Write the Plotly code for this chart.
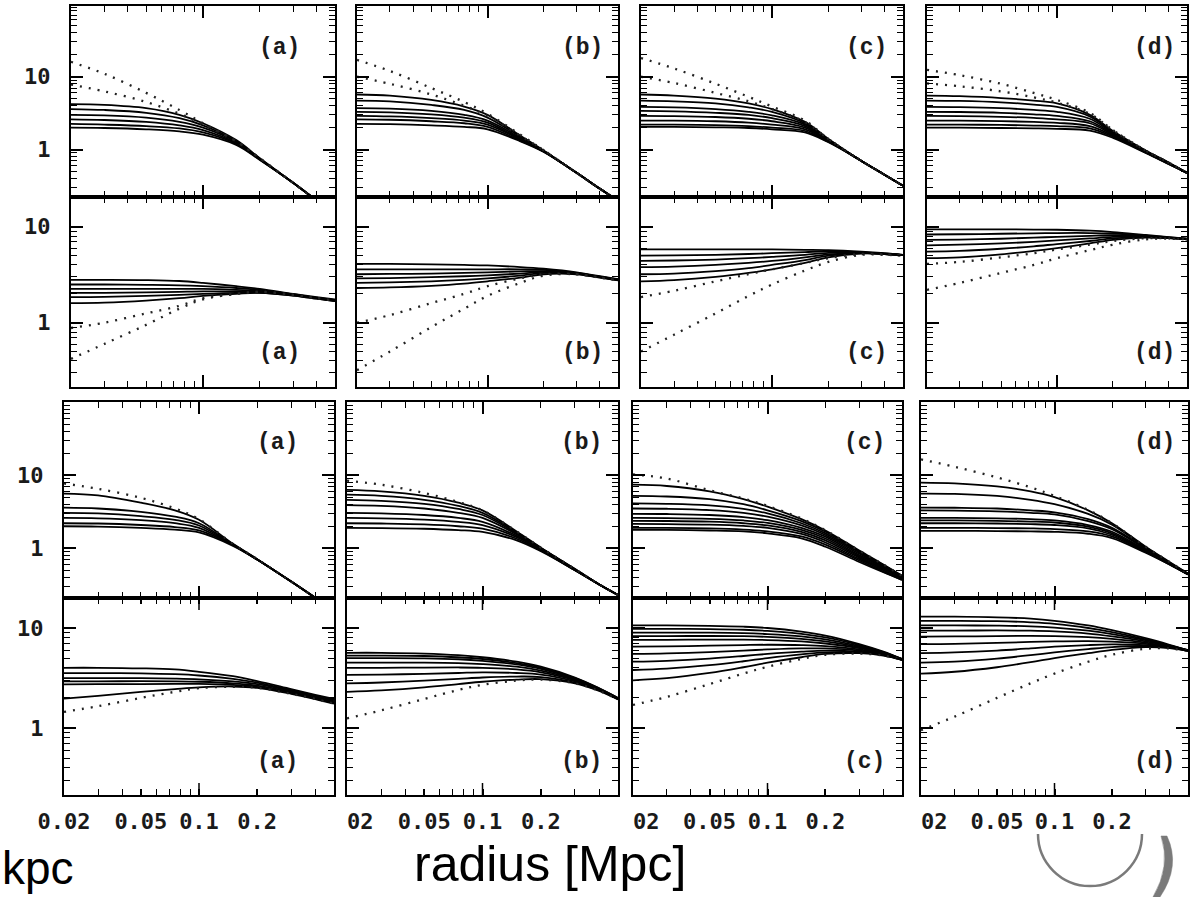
import math
import plotly.graph_objects as go

W, H = 1196, 897

# ---------------- data ----------------
radius = [0.02, 0.03, 0.05, 0.075, 0.1, 0.15, 0.2, 0.3, 0.4, 0.5]

# Row 1 (upper panels of first block)
r1_a_solid = [
    [4.2, 4.1, 3.7, 3.0, 2.3, 1.35, 0.76, 0.35, 0.2, 0.13],
    [3.6, 3.5, 3.2, 2.7, 2.15, 1.3, 0.75, 0.35, 0.2, 0.13],
    [3.0, 2.95, 2.75, 2.4, 2.0, 1.27, 0.74, 0.35, 0.2, 0.13],
    [2.6, 2.55, 2.4, 2.15, 1.85, 1.23, 0.74, 0.35, 0.2, 0.13],
    [2.25, 2.2, 2.1, 1.95, 1.72, 1.2, 0.73, 0.35, 0.2, 0.13],
    [2.0, 1.98, 1.9, 1.78, 1.6, 1.16, 0.72, 0.35, 0.2, 0.13],
]
r1_a_dot = [
    [16, 11, 6.0, 3.5, 2.3, 1.3, 0.76, 0.35, 0.2, 0.13],
    [7.8, 6.3, 4.5, 3.1, 2.2, 1.3, 0.76, 0.35, 0.2, 0.13],
]
r1_b_solid = [
    [5.7, 5.5, 4.8, 3.9, 3.0, 1.55, 0.97, 0.48, 0.29, 0.2],
    [4.7, 4.6, 4.1, 3.5, 2.75, 1.5, 0.96, 0.48, 0.29, 0.2],
    [3.7, 3.65, 3.4, 3.0, 2.5, 1.45, 0.95, 0.48, 0.29, 0.2],
    [3.3, 3.25, 3.05, 2.75, 2.35, 1.4, 0.95, 0.48, 0.29, 0.2],
    [2.9, 2.85, 2.7, 2.5, 2.2, 1.37, 0.94, 0.48, 0.29, 0.2],
    [2.6, 2.57, 2.45, 2.3, 2.05, 1.33, 0.94, 0.48, 0.29, 0.2],
    [2.25, 2.23, 2.15, 2.05, 1.9, 1.3, 0.93, 0.48, 0.29, 0.2],
]
r1_b_dot = [
    [17, 12, 7.0, 4.5, 3.1, 1.6, 0.98, 0.48, 0.29, 0.2],
    [10, 8.0, 5.7, 4.0, 2.9, 1.55, 0.98, 0.48, 0.29, 0.2],
]
r1_c_solid = [
    [5.7, 5.5, 5.0, 4.3, 3.6, 2.4, 1.4, 0.7, 0.45, 0.32],
    [4.7, 4.6, 4.3, 3.8, 3.3, 2.3, 1.38, 0.7, 0.45, 0.32],
    [3.85, 3.8, 3.6, 3.3, 2.95, 2.2, 1.36, 0.7, 0.45, 0.32],
    [3.4, 3.35, 3.2, 3.0, 2.7, 2.1, 1.34, 0.7, 0.45, 0.32],
    [2.9, 2.88, 2.8, 2.65, 2.45, 2.0, 1.32, 0.7, 0.45, 0.32],
    [2.5, 2.5, 2.45, 2.35, 2.2, 1.9, 1.3, 0.7, 0.45, 0.32],
    [2.2, 2.2, 2.17, 2.1, 2.0, 1.8, 1.28, 0.7, 0.45, 0.32],
    [2.05, 2.05, 2.02, 1.98, 1.9, 1.72, 1.26, 0.7, 0.45, 0.32],
]
r1_c_dot = [
    [18, 13, 8.0, 5.3, 3.9, 2.5, 1.4, 0.7, 0.45, 0.32],
    [10, 8.2, 6.0, 4.6, 3.6, 2.4, 1.4, 0.7, 0.45, 0.32],
]
r1_d_solid = [
    [5.5, 5.4, 5.1, 4.7, 4.3, 3.0, 1.8, 0.97, 0.66, 0.48],
    [4.7, 4.65, 4.45, 4.15, 3.85, 2.85, 1.75, 0.96, 0.66, 0.48],
    [3.85, 3.82, 3.7, 3.5, 3.3, 2.65, 1.7, 0.95, 0.65, 0.48],
    [3.3, 3.28, 3.2, 3.05, 2.9, 2.45, 1.65, 0.94, 0.65, 0.48],
    [2.9, 2.88, 2.82, 2.72, 2.6, 2.3, 1.6, 0.93, 0.64, 0.48],
    [2.5, 2.5, 2.46, 2.4, 2.33, 2.1, 1.55, 0.92, 0.64, 0.48],
    [2.2, 2.2, 2.18, 2.14, 2.1, 1.95, 1.5, 0.91, 0.63, 0.48],
    [2.0, 2.0, 1.98, 1.96, 1.93, 1.82, 1.45, 0.9, 0.63, 0.48],
]
r1_d_dot = [
    [12.4, 10.5, 8.0, 6.0, 4.8, 3.2, 1.85, 0.97, 0.66, 0.48],
    [8.1, 7.4, 6.3, 5.2, 4.4, 3.1, 1.85, 0.97, 0.66, 0.48],
]

# Row 2 (lower panels of first block)
r2_a_solid = [
    [2.8, 2.8, 2.78, 2.72, 2.6, 2.4, 2.25, 2.0, 1.85, 1.75],
    [2.5, 2.5, 2.48, 2.45, 2.4, 2.3, 2.2, 1.98, 1.82, 1.72],
    [2.25, 2.25, 2.25, 2.25, 2.25, 2.2, 2.15, 1.95, 1.8, 1.7],
    [2.05, 2.05, 2.07, 2.1, 2.12, 2.12, 2.1, 1.95, 1.8, 1.7],
    [1.85, 1.86, 1.9, 1.95, 2.0, 2.05, 2.05, 1.92, 1.78, 1.68],
    [1.6, 1.62, 1.7, 1.8, 1.9, 2.0, 2.05, 1.92, 1.78, 1.68],
]
r2_a_dot = [
    [0.88, 1.0, 1.25, 1.5, 1.8, 2.0, 2.1, 1.95, 1.8, 1.7],
    [0.42, 0.6, 0.95, 1.4, 1.75, 2.0, 2.1, 1.95, 1.8, 1.7],
]
r2_b_solid = [
    [4.1, 4.1, 4.05, 4.0, 3.95, 3.8, 3.65, 3.35, 3.05, 2.85],
    [3.6, 3.6, 3.6, 3.6, 3.6, 3.6, 3.55, 3.3, 3.02, 2.83],
    [3.2, 3.22, 3.25, 3.3, 3.35, 3.42, 3.45, 3.28, 3.0, 2.82],
    [2.9, 2.92, 2.98, 3.05, 3.12, 3.25, 3.38, 3.25, 2.98, 2.8],
    [2.6, 2.63, 2.7, 2.8, 2.9, 3.1, 3.3, 3.22, 2.96, 2.78],
    [2.3, 2.33, 2.42, 2.55, 2.7, 2.95, 3.2, 3.2, 2.95, 2.77],
]
r2_b_dot = [
    [1.0, 1.2, 1.6, 2.0, 2.4, 2.9, 3.2, 3.2, 2.95, 2.77],
    [0.32, 0.5, 0.9, 1.4, 1.9, 2.6, 3.1, 3.2, 2.95, 2.77],
]
r2_c_solid = [
    [5.8, 5.8, 5.8, 5.8, 5.8, 5.75, 5.7, 5.5, 5.3, 5.1],
    [5.0, 5.02, 5.1, 5.2, 5.3, 5.45, 5.55, 5.45, 5.25, 5.1],
    [4.4, 4.45, 4.55, 4.7, 4.85, 5.1, 5.35, 5.4, 5.2, 5.05],
    [3.8, 3.85, 4.0, 4.2, 4.4, 4.8, 5.15, 5.35, 5.2, 5.05],
    [3.2, 3.25, 3.45, 3.7, 4.0, 4.5, 5.0, 5.3, 5.2, 5.05],
    [2.7, 2.78, 3.0, 3.3, 3.6, 4.2, 4.8, 5.25, 5.2, 5.05],
]
r2_c_dot = [
    [1.85, 2.15, 2.7, 3.2, 3.6, 4.2, 4.7, 5.2, 5.15, 5.0],
    [0.5, 0.75, 1.25, 1.9, 2.5, 3.5, 4.3, 5.1, 5.1, 5.0],
]
r2_d_solid = [
    [9.4, 9.4, 9.4, 9.35, 9.3, 9.1, 8.8, 8.2, 7.8, 7.5],
    [8.3, 8.35, 8.45, 8.55, 8.6, 8.6, 8.5, 8.1, 7.75, 7.5],
    [7.3, 7.35, 7.5, 7.7, 7.85, 8.05, 8.15, 8.0, 7.7, 7.45],
    [6.4, 6.5, 6.7, 6.95, 7.2, 7.55, 7.85, 7.9, 7.65, 7.45],
    [5.5, 5.6, 5.9, 6.25, 6.6, 7.1, 7.55, 7.8, 7.6, 7.4],
    [4.7, 4.8, 5.15, 5.6, 6.0, 6.7, 7.3, 7.7, 7.6, 7.4],
]
r2_d_dot = [
    [4.1, 4.3, 4.8, 5.3, 5.8, 6.5, 7.1, 7.6, 7.55, 7.4],
    [2.2, 2.6, 3.3, 4.0, 4.7, 5.7, 6.5, 7.4, 7.5, 7.4],
]

# Row 3 (upper panels of second block)
r3_a_solid = [
    [5.6, 5.3, 4.2, 3.3, 2.45, 1.15, 0.71, 0.35, 0.21, 0.14],
    [3.6, 3.5, 3.15, 2.7, 2.2, 1.13, 0.71, 0.35, 0.21, 0.14],
    [3.05, 3.0, 2.75, 2.45, 2.05, 1.12, 0.7, 0.35, 0.21, 0.14],
    [2.6, 2.57, 2.42, 2.2, 1.9, 1.11, 0.7, 0.35, 0.21, 0.14],
    [2.2, 2.18, 2.08, 1.95, 1.75, 1.1, 0.7, 0.35, 0.21, 0.14],
    [2.0, 1.98, 1.9, 1.8, 1.65, 1.08, 0.7, 0.35, 0.21, 0.14],
]
r3_a_dot = [
    [7.7, 6.5, 4.9, 3.5, 2.5, 1.15, 0.71, 0.35, 0.21, 0.14],
]
r3_b_solid = [
    [6.3, 6.0, 5.2, 4.2, 3.3, 1.7, 1.02, 0.52, 0.32, 0.23],
    [5.4, 5.2, 4.6, 3.8, 3.05, 1.65, 1.01, 0.52, 0.32, 0.23],
    [4.6, 4.45, 4.05, 3.45, 2.85, 1.6, 1.0, 0.51, 0.32, 0.23],
    [3.9, 3.8, 3.5, 3.05, 2.6, 1.55, 0.99, 0.51, 0.32, 0.23],
    [3.05, 3.0, 2.85, 2.6, 2.3, 1.48, 0.97, 0.51, 0.32, 0.23],
    [2.6, 2.57, 2.47, 2.3, 2.08, 1.42, 0.95, 0.5, 0.32, 0.23],
    [2.2, 2.18, 2.12, 2.0, 1.85, 1.35, 0.93, 0.5, 0.32, 0.23],
    [1.9, 1.89, 1.85, 1.77, 1.67, 1.28, 0.91, 0.5, 0.32, 0.23],
]
r3_b_dot = [
    [8.4, 7.4, 5.7, 4.3, 3.3, 1.7, 1.02, 0.52, 0.32, 0.23],
]
r3_c_solid = [
    [7.4, 7.1, 6.0, 4.7, 3.7, 2.5, 1.75, 0.93, 0.6, 0.42],
    [5.2, 5.1, 4.7, 4.0, 3.3, 2.35, 1.68, 0.9, 0.59, 0.42],
    [4.1, 4.05, 3.85, 3.45, 3.0, 2.2, 1.6, 0.87, 0.58, 0.41],
    [3.5, 3.47, 3.33, 3.05, 2.7, 2.05, 1.52, 0.84, 0.56, 0.41],
    [2.96, 2.94, 2.85, 2.67, 2.42, 1.9, 1.44, 0.8, 0.55, 0.4],
    [2.6, 2.59, 2.53, 2.4, 2.22, 1.78, 1.36, 0.77, 0.53, 0.4],
    [2.37, 2.36, 2.31, 2.2, 2.05, 1.67, 1.28, 0.74, 0.52, 0.39],
    [2.15, 2.14, 2.1, 2.02, 1.9, 1.57, 1.2, 0.71, 0.5, 0.38],
    [1.9, 1.9, 1.87, 1.8, 1.7, 1.45, 1.12, 0.68, 0.48, 0.37],
    [1.78, 1.78, 1.75, 1.7, 1.6, 1.37, 1.05, 0.65, 0.47, 0.37],
]
r3_c_dot = [
    [10.2, 9.0, 6.2, 4.8, 3.8, 2.55, 1.76, 0.93, 0.6, 0.42],
]
r3_d_solid = [
    [7.9, 7.7, 7.0, 6.0, 5.0, 3.3, 2.2, 1.05, 0.65, 0.45],
    [5.6, 5.55, 5.2, 4.6, 4.0, 2.95, 2.1, 1.03, 0.64, 0.45],
    [3.6, 3.58, 3.5, 3.3, 3.1, 2.5, 1.9, 1.0, 0.63, 0.44],
    [3.3, 3.28, 3.2, 3.05, 2.9, 2.35, 1.82, 0.98, 0.63, 0.44],
    [2.6, 2.6, 2.57, 2.5, 2.4, 2.08, 1.68, 0.95, 0.62, 0.44],
    [2.4, 2.4, 2.37, 2.32, 2.25, 1.98, 1.6, 0.93, 0.61, 0.44],
    [2.2, 2.2, 2.18, 2.14, 2.08, 1.87, 1.53, 0.91, 0.61, 0.44],
    [1.9, 1.9, 1.89, 1.87, 1.83, 1.7, 1.45, 0.89, 0.6, 0.44],
    [1.73, 1.73, 1.72, 1.7, 1.68, 1.58, 1.38, 0.87, 0.6, 0.44],
]
r3_d_dot = [
    [16.4, 13, 9.3, 6.8, 5.2, 3.35, 2.2, 1.05, 0.65, 0.45],
]

# Row 4 (lower panels of second block)
r4_a_solid = [
    [4.0, 4.0, 3.95, 3.85, 3.65, 3.3, 2.95, 2.45, 2.15, 1.95],
    [3.54, 3.54, 3.52, 3.45, 3.35, 3.1, 2.85, 2.4, 2.1, 1.9],
    [3.15, 3.15, 3.15, 3.12, 3.07, 2.92, 2.75, 2.35, 2.05, 1.85],
    [2.93, 2.93, 2.94, 2.93, 2.9, 2.8, 2.65, 2.3, 2.0, 1.8],
    [2.73, 2.74, 2.75, 2.76, 2.76, 2.7, 2.58, 2.25, 1.97, 1.78],
    [1.97, 2.1, 2.3, 2.45, 2.55, 2.6, 2.52, 2.2, 1.95, 1.75],
]
r4_a_dot = [
    [1.45, 1.65, 2.0, 2.3, 2.5, 2.58, 2.52, 2.2, 1.95, 1.75],
]
r4_b_solid = [
    [5.65, 5.65, 5.55, 5.35, 5.1, 4.6, 4.1, 3.2, 2.5, 2.0],
    [5.3, 5.3, 5.25, 5.1, 4.9, 4.45, 4.0, 3.15, 2.48, 2.0],
    [5.0, 5.0, 4.97, 4.87, 4.7, 4.32, 3.9, 3.1, 2.46, 1.98],
    [4.5, 4.5, 4.5, 4.45, 4.35, 4.1, 3.75, 3.05, 2.44, 1.97],
    [4.0, 4.0, 4.02, 4.03, 4.0, 3.85, 3.6, 3.0, 2.42, 1.96],
    [3.4, 3.42, 3.48, 3.55, 3.6, 3.55, 3.42, 2.93, 2.4, 1.95],
    [2.8, 2.85, 2.97, 3.1, 3.2, 3.27, 3.23, 2.85, 2.37, 1.94],
    [2.3, 2.38, 2.55, 2.75, 2.9, 3.05, 3.08, 2.8, 2.35, 1.93],
]
r4_b_dot = [
    [1.25, 1.5, 1.95, 2.4, 2.7, 2.98, 3.05, 2.8, 2.35, 1.93],
]
r4_c_solid = [
    [10.6, 10.6, 10.5, 10.3, 10.0, 9.2, 8.4, 6.9, 5.8, 4.9],
    [9.8, 9.8, 9.75, 9.6, 9.35, 8.75, 8.05, 6.75, 5.75, 4.9],
    [9.0, 9.0, 9.0, 8.9, 8.7, 8.25, 7.7, 6.6, 5.7, 4.9],
    [8.3, 8.3, 8.32, 8.28, 8.15, 7.8, 7.35, 6.45, 5.65, 4.85],
    [7.6, 7.62, 7.65, 7.65, 7.58, 7.35, 7.0, 6.3, 5.6, 4.85],
    [6.5, 6.55, 6.65, 6.75, 6.8, 6.75, 6.6, 6.1, 5.5, 4.85],
    [5.5, 5.57, 5.75, 5.95, 6.1, 6.25, 6.25, 5.95, 5.45, 4.8],
    [4.6, 4.7, 4.95, 5.25, 5.5, 5.8, 5.95, 5.8, 5.4, 4.8],
    [3.8, 3.92, 4.25, 4.65, 5.0, 5.45, 5.7, 5.7, 5.35, 4.8],
    [3.0, 3.15, 3.55, 4.05, 4.5, 5.1, 5.5, 5.6, 5.3, 4.8],
]
r4_c_dot = [
    [1.7, 2.05, 2.75, 3.5, 4.1, 4.9, 5.4, 5.55, 5.3, 4.8],
]
r4_d_solid = [
    [13.0, 13.0, 12.8, 12.4, 11.8, 10.6, 9.5, 7.9, 6.8, 6.0],
    [11.8, 11.8, 11.7, 11.4, 11.0, 10.0, 9.1, 7.7, 6.7, 6.0],
    [10.6, 10.6, 10.55, 10.4, 10.1, 9.4, 8.7, 7.55, 6.65, 6.0],
    [9.4, 9.42, 9.45, 9.4, 9.25, 8.8, 8.25, 7.35, 6.6, 5.95],
    [8.2, 8.23, 8.3, 8.35, 8.3, 8.1, 7.8, 7.15, 6.5, 5.95],
    [6.9, 6.95, 7.1, 7.25, 7.35, 7.4, 7.3, 6.95, 6.45, 5.95],
    [5.6, 5.7, 5.95, 6.25, 6.5, 6.75, 6.85, 6.75, 6.4, 5.9],
    [4.5, 4.62, 4.95, 5.35, 5.7, 6.15, 6.45, 6.6, 6.35, 5.9],
    [3.5, 3.65, 4.05, 4.55, 5.0, 5.6, 6.05, 6.45, 6.3, 5.9],
]
r4_d_dot = [
    [0.95, 1.3, 2.0, 2.8, 3.5, 4.6, 5.4, 6.2, 6.25, 5.9],
]

panel_letters = ["(a)", "(b)", "(c)", "(d)"]
x_label_vals = [0.02, 0.05, 0.1, 0.2]
x_label_text_first = ["0.02", "0.05", "0.1", "0.2"]
x_label_text_other = ["\u00a0\u00a002", "0.05", "0.1", "0.2"]
y_major_vals = [1, 10, 100]
y_major_text = ["1", "10", ""]

panels = [
    [(r1_a_solid, r1_a_dot), (r1_b_solid, r1_b_dot), (r1_c_solid, r1_c_dot), (r1_d_solid, r1_d_dot)],
    [(r2_a_solid, r2_a_dot), (r2_b_solid, r2_b_dot), (r2_c_solid, r2_c_dot), (r2_d_solid, r2_d_dot)],
    [(r3_a_solid, r3_a_dot), (r3_b_solid, r3_b_dot), (r3_c_solid, r3_c_dot), (r3_d_solid, r3_d_dot)],
    [(r4_a_solid, r4_a_dot), (r4_b_solid, r4_b_dot), (r4_c_solid, r4_c_dot), (r4_d_solid, r4_d_dot)],
]

# ---------------- layout geometry (pixels) ----------------
cols_block1 = [(71, 335), (357, 618), (641, 903), (927, 1187)]
cols_block2 = [(64, 334), (347, 618), (633, 902), (921, 1188)]
rows_px = [(6, 197), (197, 387), (402, 598), (598, 795)]
y_ranges = [(-0.65, 1.97), (-0.67, 1.31), (-0.68, 2.0), (-0.67, 1.3)]
label_y = [0.78, 0.18, 0.79, 0.17]
label_x = [0.79, 0.865, 0.86, 0.875]
x_range = [math.log10(0.02), math.log10(0.5)]

fig = go.Figure()
layout = dict(
    width=W, height=H,
    margin=dict(l=0, r=0, t=0, b=0, autoexpand=False),
    paper_bgcolor="white", plot_bgcolor="white",
    showlegend=False,
)
annotations = []
shapes = []

tick_font = dict(family="DejaVu Sans Mono", size=22, color="#1a1a1a", weight="bold")
minor_common = dict(ticks="inside", dtick="D1", ticklen=6, tickcolor="black", tickwidth=1.3)

for r in range(4):
    cols = cols_block1 if r < 2 else cols_block2
    y0p, y1p = rows_px[r]
    for c in range(4):
        k = r * 4 + c + 1
        xa = "x" if k == 1 else f"x{k}"
        ya = "y" if k == 1 else f"y{k}"
        x0p, x1p = cols[c]
        solid, dot = panels[r][c]
        for ys in solid:
            fig.add_trace(go.Scatter(x=radius, y=ys, mode="lines", xaxis=xa, yaxis=ya,
                                     line=dict(color="black", width=1.8, shape="spline", smoothing=1.0),
                                     hoverinfo="skip"))
        for ys in dot:
            fig.add_trace(go.Scatter(x=radius, y=ys, mode="lines", xaxis=xa, yaxis=ya,
                                     line=dict(color="#222", width=2.3, shape="spline", smoothing=1.0,
                                               dash="2px,7px"),
                                     hoverinfo="skip"))
        bottom_row = (r == 3)
        xaxis = dict(
            type="log", range=x_range, domain=[x0p / W, x1p / W], anchor=ya, automargin=False,
            showgrid=False, zeroline=False, showline=True, linecolor="black", linewidth=2,
            mirror="ticks", ticks="inside", tickcolor="black", tickwidth=1.5,
            minor=minor_common,
        )
        if bottom_row:
            xaxis.update(tickmode="array", tickvals=x_label_vals,
                         ticktext=x_label_text_first if c == 0 else x_label_text_other,
                         ticklen=6, showticklabels=True, tickfont=tick_font,
                         ticklabelstandoff=6)
            # long decade tick at 0.1 on both edges of the lower panels
            frac = 12 / (y1p - y0p)
            for (ya0, ya1) in [(0, frac), (1 - frac, 1)]:
                shapes.append(dict(type="line", xref=xa, yref=f"{ya} domain",
                                   x0=0.1, x1=0.1, y0=ya0, y1=ya1,
                                   line=dict(color="black", width=1.5)))
        else:
            xaxis.update(tickmode="array", tickvals=[0.1], ticklen=12, showticklabels=False)
        yaxis = dict(
            type="log", range=list(y_ranges[r]), domain=[1 - y1p / H, 1 - y0p / H], anchor=xa,
            automargin=False,
            showgrid=False, zeroline=False, showline=True, linecolor="black", linewidth=2,
            mirror="ticks", ticks="inside", tickcolor="black", tickwidth=1.5, ticklen=12,
            tickmode="array", tickvals=y_major_vals, ticktext=y_major_text,
            showticklabels=(c == 0), tickfont=tick_font, ticklabelstandoff=14,
            minor=minor_common,
        )
        layout["xaxis" if k == 1 else f"xaxis{k}"] = xaxis
        layout["yaxis" if k == 1 else f"yaxis{k}"] = yaxis
        annotations.append(dict(
            text=panel_letters[c], xref=f"{xa} domain", yref=f"{ya} domain",
            x=label_x[c], y=label_y[r], xanchor="center", yanchor="middle", showarrow=False,
            font=dict(family="Liberation Mono", size=23, color="#1a1a1a", weight="bold"),
        ))

# slide texts
annotations.append(dict(text="kpc", xref="paper", yref="paper", x=0.0, y=1 - 868 / H,
                        xanchor="left", yanchor="middle", showarrow=False,
                        font=dict(family="Liberation Sans", size=46, color="black")))
annotations.append(dict(text="radius [Mpc]", xref="paper", yref="paper", x=550 / W, y=1 - 864 / H,
                        xanchor="center", yanchor="middle", showarrow=False,
                        font=dict(family="Liberation Sans", size=50, color="black")))


def P(px, py):
    return f"{px / W:.5f},{1 - py / H:.5f}"


# decorative arc and bracket at bottom right
arc = (f"M {P(1038, 834)} C {P(1038, 862.7)} {P(1061.3, 886)} {P(1090, 886)} "
       f"C {P(1118.7, 886)} {P(1142, 862.7)} {P(1142, 834)}")
shapes.append(dict(type="path", xref="paper", yref="paper", path=arc,
                   line=dict(color="#7a7a7a", width=2.5)))
bracket = (f"M {P(1167, 836)} Q {P(1181, 866)} {P(1160, 897)} L {P(1153, 897)} "
           f"Q {P(1171, 866)} {P(1161, 836)} Z")
shapes.append(dict(type="path", xref="paper", yref="paper", path=bracket,
                   fillcolor="#7a7a7a", line=dict(color="#7a7a7a", width=0.5)))

layout["annotations"] = annotations
layout["shapes"] = shapes
fig.update_layout(**layout)
fig.write_html("out.html")
